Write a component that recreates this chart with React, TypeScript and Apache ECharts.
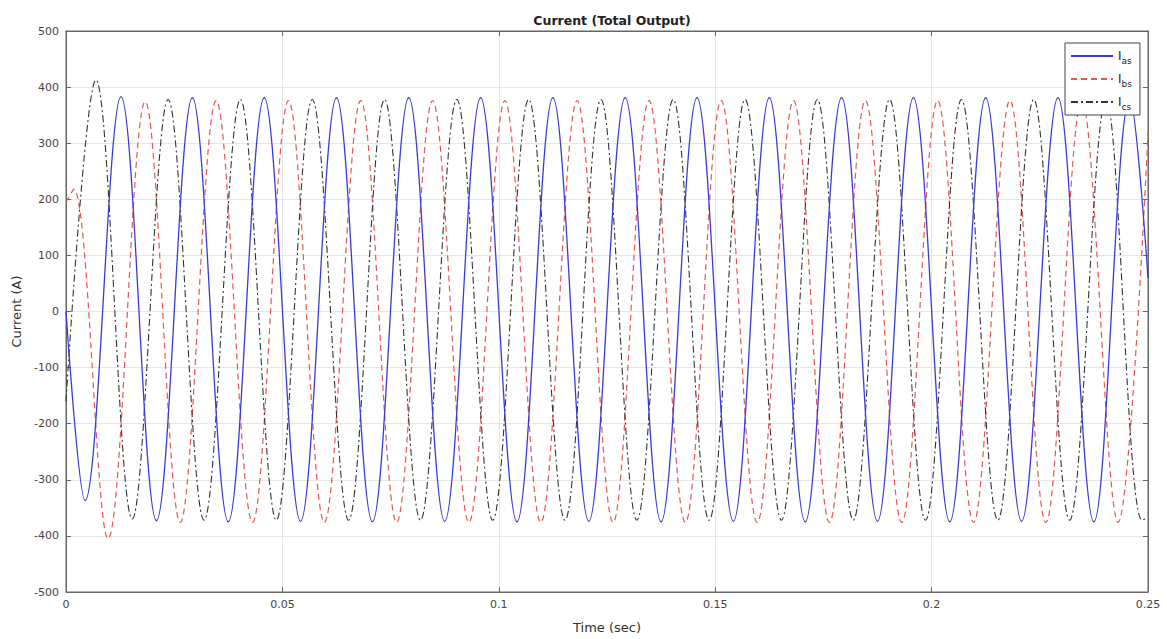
import React, { useEffect, useRef } from 'react';
import * as echarts from 'echarts';

// Extrema (peaks / troughs), plus start and end values
const tIas = [0, 0.0044, 0.0127, 0.0209, 0.0292, 0.0375, 0.0458, 0.0542, 0.0625, 0.0708, 0.0792, 0.0875, 0.0958, 0.1042, 0.1125, 0.1208, 0.1292, 0.1375, 0.1458, 0.1542, 0.1625, 0.1708, 0.1792, 0.1875, 0.1958, 0.2042, 0.2125, 0.2208, 0.2292, 0.2375, 0.2458, 0.25];
const vIas = [0, -337, 383, -373, 381, -375, 381, -374, 381, -375, 381, -374, 381, -375, 381, -374, 381, -375, 381, -374, 381, -375, 381, -374, 381, -375, 381, -374, 381, -375, 381, 60];

const tIbs = [0, 0.0018, 0.0097, 0.0183, 0.0264, 0.0347, 0.0431, 0.0514, 0.0597, 0.0681, 0.0764, 0.0847, 0.0931, 0.1014, 0.1097, 0.1181, 0.1264, 0.1347, 0.1431, 0.1514, 0.1597, 0.1681, 0.1764, 0.1847, 0.1931, 0.2014, 0.2097, 0.2181, 0.2264, 0.2347, 0.2431, 0.25];
const vIbs = [195, 218, -405, 374, -376, 376, -376, 376, -376, 376, -376, 376, -376, 376, -376, 376, -376, 376, -376, 376, -376, 376, -376, 376, -376, 376, -376, 376, -376, 376, -376, 318];

const tIcs = [0, 0.0069, 0.0153, 0.0236, 0.0319, 0.0403, 0.0486, 0.0569, 0.0653, 0.0736, 0.0819, 0.0903, 0.0986, 0.1069, 0.1153, 0.1236, 0.1319, 0.1403, 0.1486, 0.1569, 0.1653, 0.1736, 0.1819, 0.1903, 0.1986, 0.2069, 0.2153, 0.2236, 0.2319, 0.2403, 0.2486, 0.25];
const vIcs = [-160, 413, -370, 378, -372, 378, -372, 378, -372, 378, -372, 378, -372, 378, -372, 378, -372, 378, -372, 378, -372, 378, -372, 378, -372, 378, -372, 378, -372, 378, -372, -368];

const seriesNames = ['Ias', 'Ibs', 'Ics'];
const seriesColors = ['#3a3ad6', '#ee5252', '#333333'];

const xTicks = { min: 0, max: 0.25, interval: 0.05 };
const yTicks = { min: -500, max: 500, interval: 100 };

const FONT = 'DejaVu Sans';

function pairs(t: number[], v: number[]) {
  return t.map((x, i) => [x, v[i]]);
}

export default function App() {
  const ref = useRef<HTMLDivElement>(null);
  useEffect(() => {
    const chart = echarts.init(ref.current!, null, { renderer: 'svg' });
    const axisLine = { show: true, onZero: false, lineStyle: { color: '#666', width: 1 } };
    const splitLine = { show: true, lineStyle: { color: '#e6e6e6', width: 1 } };
    const axisTick = { show: true, inside: true, length: 5, lineStyle: { color: '#666' } };
    const labelStyle = { color: '#444', fontSize: 11, fontFamily: FONT };
    const option: any = {
      animation: false,
      backgroundColor: '#fff',
      title: {
        text: 'Current (Total Output)',
        left: 607,
        textAlign: 'center',
        top: 9,
        textStyle: { fontSize: 12.5, fontWeight: 'bold', color: '#222', fontFamily: FONT },
      },
      grid: { left: 66, right: 19, top: 31, bottom: 45, show: true, borderColor: '#666', borderWidth: 1 },
      legend: {
        orient: 'vertical',
        left: 1065,
        top: 43,
        itemWidth: 42,
        itemHeight: 10,
        itemGap: 6,
        padding: [5, 8, 4, 5],
        backgroundColor: '#fff',
        borderColor: '#444',
        borderWidth: 1,
        itemStyle: { opacity: 0 },
        data: seriesNames,
        formatter: (n: string) => `{m|I}{s|${n.slice(1)}}`,
        textStyle: {
          color: '#222',
          fontFamily: FONT,
          rich: {
            m: { fontSize: 12, fontFamily: FONT, color: '#222', lineHeight: 18, verticalAlign: 'middle' },
            s: { fontSize: 9, fontFamily: FONT, color: '#222', lineHeight: 18, verticalAlign: 'bottom', padding: [8, 0, 0, 0] },
          },
        },
      },
      xAxis: [
        {
          type: 'value', ...xTicks, position: 'bottom',
          name: 'Time (sec)', nameLocation: 'middle', nameGap: 29,
          nameTextStyle: { color: '#333', fontSize: 13, fontFamily: FONT },
          axisLine, axisTick, splitLine,
          axisLabel: { ...labelStyle, margin: 7 },
        },
        {
          type: 'value', ...xTicks, position: 'top',
          axisLine, axisTick, splitLine: { show: false }, axisLabel: { show: false },
        },
      ],
      yAxis: [
        {
          type: 'value', ...yTicks, position: 'left',
          name: 'Current (A)', nameLocation: 'middle', nameGap: 42,
          nameTextStyle: { color: '#333', fontSize: 13, fontFamily: FONT },
          axisLine, axisTick, splitLine,
          axisLabel: { ...labelStyle, margin: 7 },
        },
        {
          type: 'value', ...yTicks, position: 'right',
          axisLine, axisTick, splitLine: { show: false }, axisLabel: { show: false },
        },
      ],
      series: [
        {
          name: seriesNames[0], type: 'line', data: pairs(tIas, vIas), symbol: 'none', smooth: 0.36,
          color: seriesColors[0], lineStyle: { color: seriesColors[0], width: 1.3, type: 'solid' }, z: 3,
        },
        {
          name: seriesNames[1], type: 'line', data: pairs(tIbs, vIbs), symbol: 'none', smooth: 0.36,
          color: seriesColors[1], lineStyle: { color: seriesColors[1], width: 1.2, type: [6, 4] }, z: 2,
        },
        {
          name: seriesNames[2], type: 'line', data: pairs(tIcs, vIcs), symbol: 'none', smooth: 0.36,
          color: seriesColors[2], lineStyle: { color: seriesColors[2], width: 1.1, type: [7, 3, 2, 3] }, z: 2,
        },
      ],
    };
    chart.setOption(option);
    return () => chart.dispose();
  }, []);
  return <div ref={ref} style={{ position: 'fixed', left: 0, top: 0, width: 1167, height: 639 }} />;
}
